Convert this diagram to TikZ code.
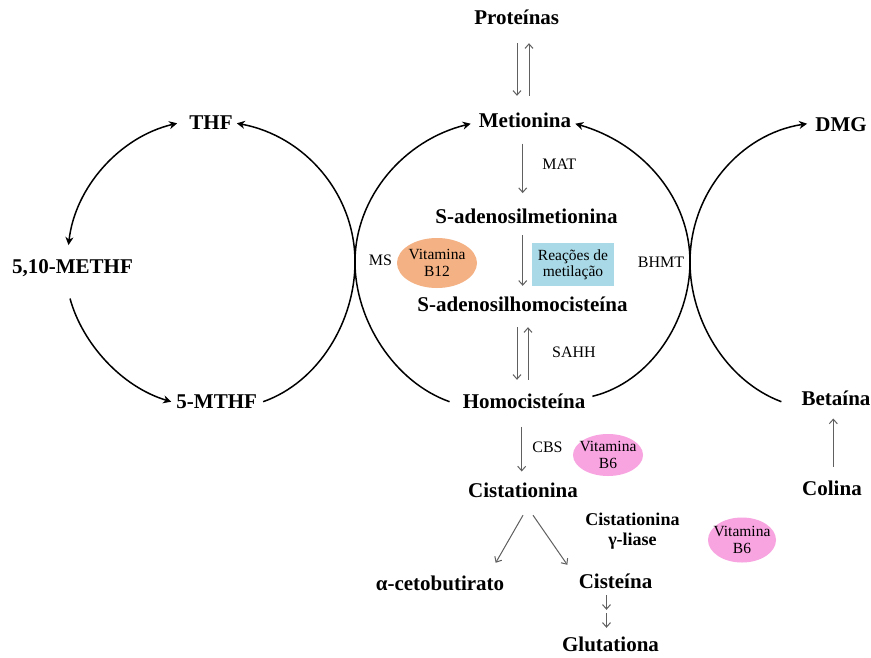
\documentclass[tikz,border=0pt]{standalone}
\usepackage{fontspec}
\setmainfont{Liberation Serif}
\usetikzlibrary{arrows.meta,shapes.geometric,calc}
\definecolor{vitorange}{HTML}{F4B183}
\definecolor{reacblue}{HTML}{A9D8E6}
\definecolor{vitpink}{HTML}{F7A4E0}
\definecolor{arrgray}{HTML}{606060}
\begin{document}
\begin{tikzpicture}[x=1pt,y=-1pt,
  metab/.style={font=\fontsize{21}{25}\selectfont\bfseries, inner xsep=3pt, inner ysep=1pt, text height=14pt, text depth=4pt},
  enz/.style={font=\fontsize{16}{19}\selectfont, inner sep=0pt},
  vitshape/.style={ellipse, fill=#1, inner sep=0pt},
  vittext/.style={align=center, inner sep=0pt, font=\fontsize{15.5}{17.5}\selectfont},
  cyc/.style={line width=1.5pt, -{Stealth[length=8pt,width=8pt,inset=2.5pt]}},
  cycboth/.style={line width=1.5pt, {Stealth[length=8pt,width=8pt,inset=2.5pt]}-{Stealth[length=8pt,width=8pt,inset=2.5pt]}},
  garr/.style={draw=arrgray, line width=1pt, -{Straight Barb[length=4.5pt,width=8pt]}},
]
\useasboundingbox[fill=white] (0,0) rectangle (871,657);

% coloured shapes
\node[vitshape=vitorange, minimum width=80pt, minimum height=50pt] (b12) at (437,263) {};
\node[vittext] (b12t) at (b12) {Vitamina\\B12};
\node[vitshape=vitpink, minimum width=70pt, minimum height=42pt] (b6a) at (608,455) {};
\node[vittext] (b6at) at (b6a) {Vitamina\\B6};
\node[vitshape=vitpink, minimum width=68pt, minimum height=45pt] (b6b) at (742,540) {};
\node[vittext] (b6bt) at (b6b) {Vitamina\\B6};
\node[fill=reacblue, minimum width=82pt, minimum height=43pt, inner sep=0pt, align=center,
      font=\fontsize{15.5}{16}\selectfont] (reac) at (573,264.5) {Reações de\\metilação};

% metabolites
\node[metab] (prot) at (516.7,19) {Proteínas};
\node[metab] (met) at (525,122.7) {Metionina};
\node[metab] (sam) at (526.5,218.3) {S-adenosilmetionina};
\node[metab] (sah) at (522.5,306.7) {S-adenosilhomocisteína};
\node[metab] (hom) at (524,403.3) {Homocisteína};
\node[metab] (cist) at (523,492.3) {Cistationina};
\node[metab] (aceto) at (440,585) {α-cetobutirato};
\node[metab] (cys) at (615.5,583.3) {Cisteína};
\node[metab] (glut) at (610.5,646.7) {Glutationa};
\node[metab] (thf) at (211,124.3) {THF};
\node[metab] (methf) at (72.5,268.3) {5,10-METHF};
\node[metab] (mthf) at (216.7,403.3) {5-MTHF};
\node[metab] (dmg) at (841,126.7) {DMG};
\node[metab] (bet) at (836,400) {Betaína};
\node[metab] (col) at (832,490) {Colina};
\node[font=\fontsize{18}{20}\selectfont\bfseries, align=center, inner sep=0pt] (cgl) at (632.5,531) {Cistationina\\γ-liase};

% enzymes
\node[enz] (mat) at (559.3,164) {MAT};
\node[enz] (ms) at (380.5,260) {MS};
\node[enz] (bhmt) at (661,262) {BHMT};
\node[enz] (sahh) at (574,352) {SAHH};
\node[enz] (cbs) at (547.5,447.5) {CBS};

% gray arrows
\draw[garr] ($(prot.south)+(0.3,14)$) -- ($(met.north)+(-8,-16.7)$);
\draw[garr] ($(met.north)+(4,-16.7)$) -- ($(prot.south)+(12.3,14)$);
\draw[garr] ($(met.south)+(-2.3,10.6)$) -- ($(sam.north)+(-3.8,-15)$);
\draw[garr] ($(sam.south)+(-3.8,6.7)$) -- ($(sah.north)+(0.2,-10.7)$);
\draw[garr] ($(sah.south)+(-5.5,10.3)$) -- ($(hom.north)+(-7,-13.3)$);
\draw[garr] ($(hom.north)+(4,-13.3)$) -- ($(sah.south)+(5.5,10.3)$);
\draw[garr] ($(hom.south)+(-2.3,13.4)$) -- ($(cist.north)+(-1.3,-10.6)$);
\draw[garr] ($(cist.south)+(0,12.7)$) -- ($(aceto.north)+(55.7,-12)$);
\draw[garr] ($(cist.south)+(10,12.7)$) -- ($(cys.north)+(-48.2,-8.3)$);
\draw[garr] ($(cys.south)+(-9,1.7)$) -- ($(glut.north)+(-4,-26.7)$);
\draw[garr] ($(cys.south)+(-9,19.7)$) -- ($(glut.north)+(-4,-8.7)$);
\draw[garr] ($(col.north)+(1.3,-13.3)$) -- ($(bet.south)+(-2.7,8.3)$);

% cycle curves
\coordinate (xl) at (355,262);
\coordinate (xr) at (690,262);
\draw[cycboth] ($(thf.west)+(-9,-1)$) .. controls (119.5,137) and (75,187.5) .. ($(methf.north)+(-4,-13)$);
\draw[cyc] ($(methf.south)+(-2.5,20)$) .. controls (82.5,344) and (122,387) .. ($(mthf.west)+(-2,-1.6)$);
\draw[cyc] ($(mthf.east)+(3,-1.6)$) .. controls (319,382) and (355,321) .. (xl)
  .. controls (355,194) and (305,136) .. ($(thf.east)+(1,-1)$);
\draw[cyc] ($(hom.west)+(-10,-1.6)$) .. controls (394,382) and (355,320) .. (xl)
  .. controls (355,197) and (404,140) .. ($(met.west)+(-5,1)$);
\draw[cyc] ($(hom.east)+(4,-7)$) .. controls (651,382) and (690,320) .. (xr)
  .. controls (690,200) and (645,144) .. ($(met.east)+(1,1)$);
\draw[cyc] ($(bet.west)+(-17,1.7)$) .. controls (726,381) and (690,320) .. (xr)
  .. controls (690,193) and (740,134) .. ($(dmg.west)+(-5,-3)$);
\end{tikzpicture}
\end{document}
